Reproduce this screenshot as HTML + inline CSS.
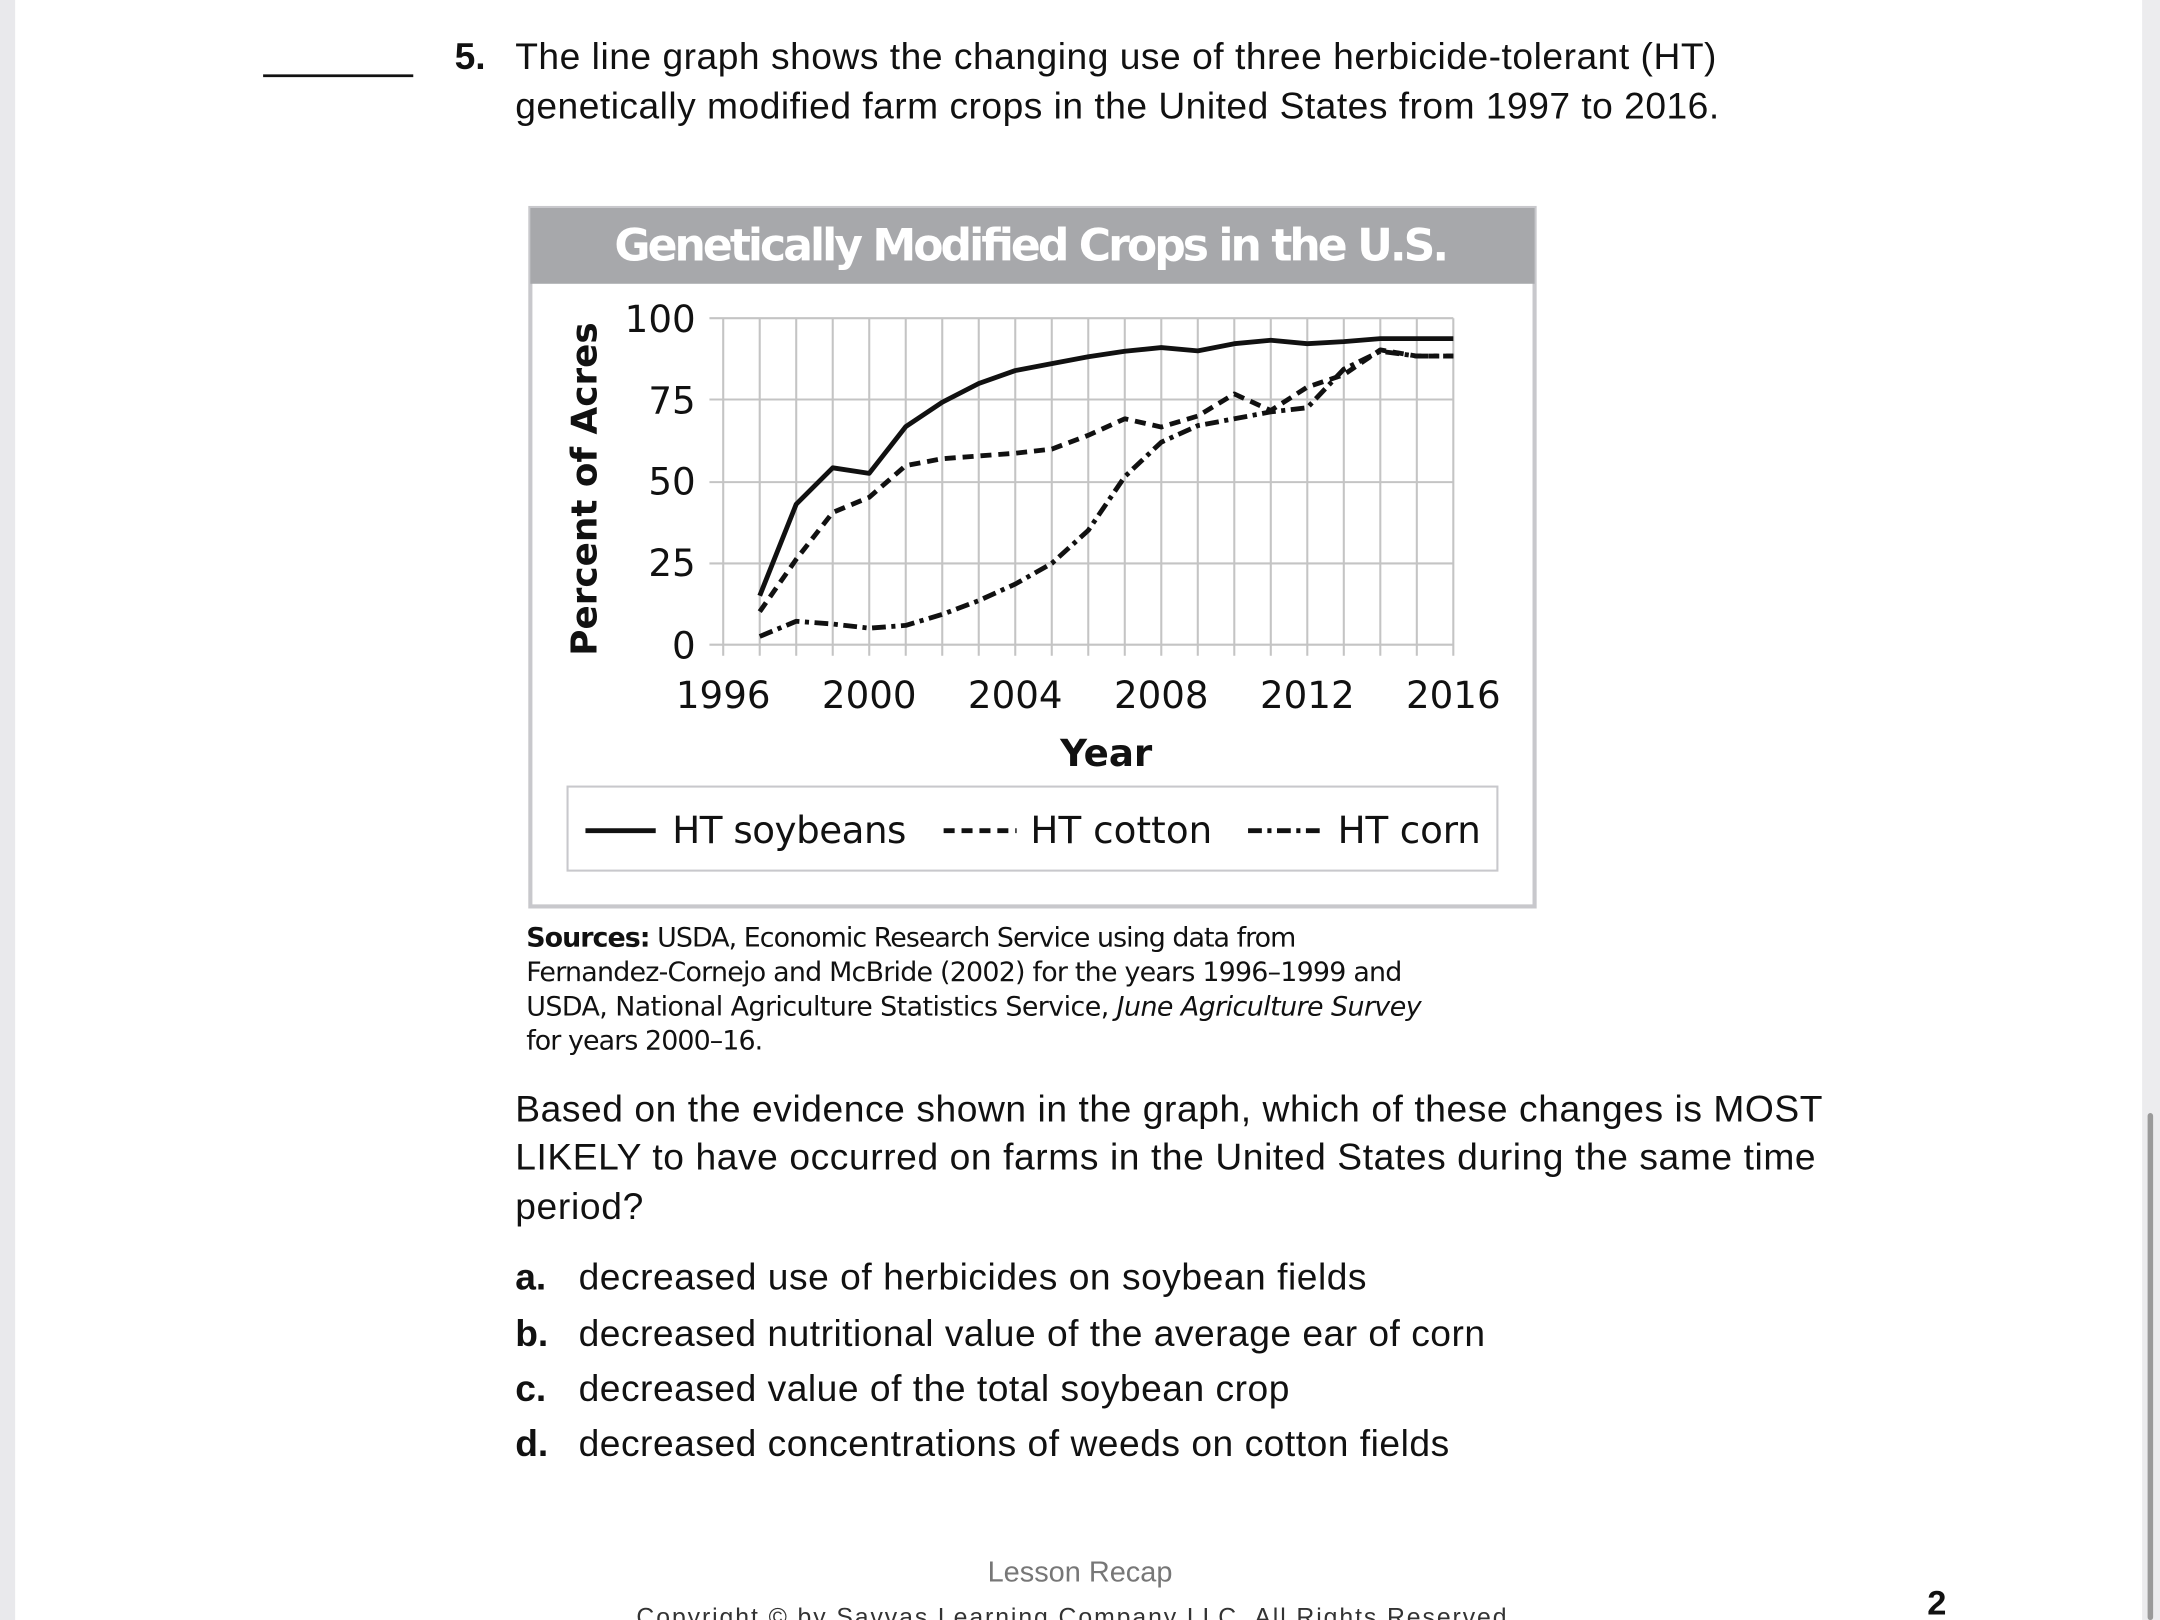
<!DOCTYPE html>
<html><head><meta charset="utf-8"><style>
html,body{margin:0;padding:0;background:#fff;}
svg{display:block;}
</style></head><body>
<svg width="2160" height="1620" viewBox="0 0 1568 1176" xmlns="http://www.w3.org/2000/svg" font-family="Liberation Sans, DejaVu Sans, sans-serif">
<rect width="1568" height="1176" fill="#fff"/>
<rect x="0" y="0" width="11" height="1176" fill="#e9e9ec"/>
<rect x="1555" y="0" width="13" height="1176" fill="#ececee"/>
<rect x="1559" y="808" width="4" height="368" rx="2" fill="#9a9a9a"/>
<line x1="191" y1="55" x2="300" y2="55" stroke="#111" stroke-width="2"/>
<g font-size="27" fill="#111">
<text x="330" y="50" font-weight="bold">5.</text>
<text x="374" y="50" textLength="872">The line graph shows the changing use of three herbicide-tolerant (HT)</text>
<text x="374" y="86" textLength="874">genetically modified farm crops in the United States from 1997 to 2016.</text>
</g>
<!-- chart box -->
<rect x="385" y="151" width="729" height="507" fill="#fff" stroke="#c8c8cc" stroke-width="3"/>
<rect x="385" y="151" width="729" height="55" fill="#a7a8ab"/>
<text x="749" y="189" text-anchor="middle" font-size="32" font-weight="bold" fill="#fff" textLength="606" font-family="DejaVu Sans, sans-serif">Genetically Modified Crops in the U.S.</text>
<!-- grid -->
<g stroke="#c4c4c4" stroke-width="1.5">
<line x1="525" y1="231" x2="525" y2="476"/><line x1="551.5" y1="231" x2="551.5" y2="476"/><line x1="578" y1="231" x2="578" y2="476"/><line x1="604.5" y1="231" x2="604.5" y2="476"/><line x1="631" y1="231" x2="631" y2="476"/><line x1="657.5" y1="231" x2="657.5" y2="476"/><line x1="684" y1="231" x2="684" y2="476"/><line x1="710.5" y1="231" x2="710.5" y2="476"/><line x1="737" y1="231" x2="737" y2="476"/><line x1="763.5" y1="231" x2="763.5" y2="476"/><line x1="790" y1="231" x2="790" y2="476"/><line x1="816.5" y1="231" x2="816.5" y2="476"/><line x1="843" y1="231" x2="843" y2="476"/><line x1="869.5" y1="231" x2="869.5" y2="476"/><line x1="896" y1="231" x2="896" y2="476"/><line x1="922.5" y1="231" x2="922.5" y2="476"/><line x1="949" y1="231" x2="949" y2="476"/><line x1="975.5" y1="231" x2="975.5" y2="476"/><line x1="1002" y1="231" x2="1002" y2="476"/><line x1="1028.5" y1="231" x2="1028.5" y2="476"/><line x1="1055" y1="231" x2="1055" y2="476"/>
<line x1="515" y1="231" x2="1055" y2="231"/><line x1="515" y1="290" x2="1055" y2="290"/><line x1="515" y1="350" x2="1055" y2="350"/><line x1="515" y1="409" x2="1055" y2="409"/><line x1="515" y1="468" x2="1055" y2="468"/>
</g>
<g font-size="27" fill="#111" font-family="DejaVu Sans, sans-serif">
<text x="505" y="241" text-anchor="end">100</text>
<text x="505" y="300" text-anchor="end">75</text>
<text x="505" y="359" text-anchor="end">50</text>
<text x="505" y="418" text-anchor="end">25</text>
<text x="505" y="478" text-anchor="end">0</text>
<text x="525" y="514" text-anchor="middle">1996</text>
<text x="631" y="514" text-anchor="middle">2000</text>
<text x="737" y="514" text-anchor="middle">2004</text>
<text x="843" y="514" text-anchor="middle">2008</text>
<text x="949" y="514" text-anchor="middle">2012</text>
<text x="1055" y="514" text-anchor="middle">2016</text>
<text x="803" y="556" text-anchor="middle" font-weight="bold">Year</text>
<text transform="translate(433,355) rotate(-90)" text-anchor="middle" font-weight="bold" font-size="26">Percent of Acres</text>
</g>
<g fill="none" stroke="#111" stroke-width="3.5" stroke-linejoin="round">
<polyline points="551.5,432.5 578,366 604.5,339.6 631,343.6 657.5,309.7 684,292 710.5,278.4 737,269 763.5,264 790,259 816.5,255 843,252.3 869.5,254.7 896,249.5 922.5,247 949,249.5 975.5,248 1002,245.8 1028.5,245.8 1055,245.8"/>
<polyline stroke-dasharray="8,5" points="551.5,444 578,406 604.5,372 631,361 657.5,338 684,333 710.5,331 737,329 763.5,326 790,316 816.5,304 843,310 869.5,302 896,286 922.5,298 949,281 975.5,272 1002,254 1028.5,258.5 1055,258.5"/>
<polyline stroke-dasharray="10,4,3,4" points="551.5,462 578,451 604.5,453 631,456 657.5,454 684,446 710.5,436 737,424 763.5,409 790,385 816.5,346 843,321 869.5,309 896,304 922.5,299 949,296 975.5,268 1002,255 1028.5,258.5 1055,258.5"/>
</g>
<!-- legend -->
<rect x="412" y="571" width="675" height="61" fill="#fff" stroke="#c8c8cc" stroke-width="1.5"/>
<g stroke="#111" stroke-width="3.5">
<line x1="425" y1="603" x2="476" y2="603"/>
<line x1="685" y1="603" x2="738" y2="603" stroke-dasharray="8,5"/>
<line x1="906" y1="603" x2="960" y2="603" stroke-dasharray="10,4,3,4"/>
</g>
<g font-size="27" fill="#111" font-family="DejaVu Sans, sans-serif">
<text x="488" y="612" textLength="170">HT soybeans</text>
<text x="748" y="612" textLength="132">HT cotton</text>
<text x="971" y="612" textLength="104">HT corn</text>
</g>
<g font-size="19.5" fill="#111" font-family="DejaVu Sans, sans-serif">
<text x="382" y="687" textLength="559"><tspan font-weight="bold">Sources:</tspan> USDA, Economic Research Service using data from</text>
<text x="382" y="712" textLength="636">Fernandez-Cornejo and McBride (2002) for the years 1996–1999 and</text>
<text x="382" y="737" textLength="650">USDA, National Agriculture Statistics Service, <tspan font-style="italic">June Agriculture Survey</tspan></text>
<text x="382" y="762" textLength="172">for years 2000–16.</text>
</g>
<g font-size="27" fill="#111">
<text x="374" y="814" textLength="949">Based on the evidence shown in the graph, which of these changes is MOST</text>
<text x="374" y="849" textLength="944">LIKELY to have occurred on farms in the United States during the same time</text>
<text x="374" y="885" textLength="93">period?</text>
<text x="374" y="936" font-weight="bold">a.</text><text x="420" y="936" textLength="572">decreased use of herbicides on soybean fields</text>
<text x="374" y="977" font-weight="bold">b.</text><text x="420" y="977" textLength="658">decreased nutritional value of the average ear of corn</text>
<text x="374" y="1017" font-weight="bold">c.</text><text x="420" y="1017" textLength="516">decreased value of the total soybean crop</text>
<text x="374" y="1057" font-weight="bold">d.</text><text x="420" y="1057" textLength="632">decreased concentrations of weeds on cotton fields</text>
</g>
<text x="784" y="1148" text-anchor="middle" font-size="21" fill="#777">Lesson Recap</text>
<text x="781" y="1180" text-anchor="middle" font-size="18" fill="#333" textLength="638">Copyright © by Savvas Learning Company LLC. All Rights Reserved.</text>
<text x="1406" y="1172" text-anchor="middle" font-size="25" font-weight="bold" fill="#111">2</text>
</svg>
</body></html>
